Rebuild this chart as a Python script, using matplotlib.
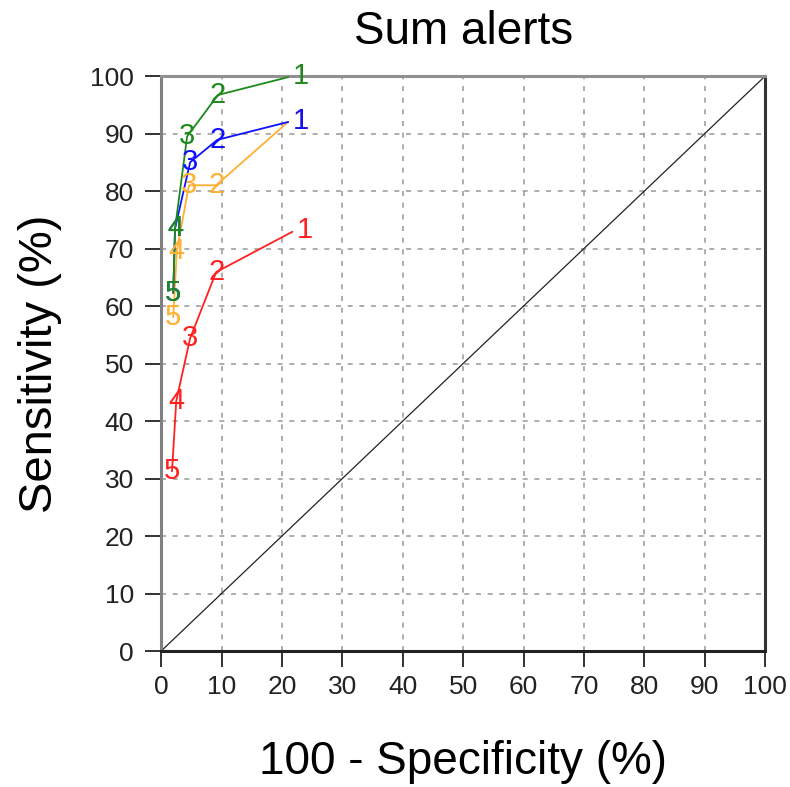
import matplotlib
matplotlib.use('Agg')
import matplotlib.pyplot as plt

plt.rcParams['font.family'] = ['Liberation Sans', 'DejaVu Sans']

# criterion points (100 - specificity, sensitivity), criterion 1..5
labels = ['1', '2', '3', '4', '5']
green_x = [21.0, 9.4, 4.3, 2.3, 2.0]
green_y = [99.8, 96.7, 89.5, 73.5, 62.3]
blue_x = [21.0, 9.3, 4.8, 2.3, 2.0]
blue_y = [92.0, 88.9, 85.0, 73.5, 62.3]
orange_x = [21.0, 9.1, 4.6, 2.6, 2.0]
orange_y = [92.0, 81.0, 81.0, 69.6, 58.1]
red_x = [21.7, 9.1, 4.8, 2.5, 1.8]
red_y = [72.9, 65.9, 54.4, 43.5, 31.3]

# drawn in this order, later ones on top
series = [
    (orange_x, orange_y, '#ffb030'),
    (blue_x, blue_y, '#1010ff'),
    (red_x, red_y, '#ff2020'),
    (green_x, green_y, '#1e8a1e'),
]

fig = plt.figure(figsize=(7.9, 7.87), dpi=100)
ax = fig.add_axes([0.204, 0.1728, 0.7646, 0.7306])

ax.plot([0, 100], [0, 100], color='#222222', lw=0.9, zorder=2)

for k, (xs, ys, col) in enumerate(series):
    ax.plot(xs, ys, color=col, lw=1.3, zorder=3 + k * 0.1)
    for i, (x, y) in enumerate(zip(xs, ys)):
        off = (9, 1) if i == 0 else (0, 0)
        ax.annotate(labels[i], (x, y), xytext=off, textcoords='offset points',
                    ha='center', va='center', fontsize=21, color=col,
                    zorder=4 + k * 0.1)

ax.set_xlim(0, 100)
ax.set_ylim(0, 100)
ax.set_xticks(range(0, 101, 10))
ax.set_yticks(range(0, 101, 10))
ax.grid(True, color='#a0a0a0', linestyle=(0, (3, 4)), lw=1.2)
ax.set_axisbelow(True)

ax.spines['left'].set_color('#808080')
ax.spines['top'].set_color('#909090')
ax.spines['right'].set_color('#333333')
ax.spines['bottom'].set_color('#222222')
for s in ax.spines.values():
    s.set_linewidth(2.2)

ax.tick_params(axis='both', direction='out', length=11.5, width=1.3,
               color='#222222', labelsize=19, labelcolor='#222222')
ax.tick_params(axis='y', pad=8)
ax.tick_params(axis='x', pad=6)

ax.set_title('Sum alerts', fontsize=33, pad=23)
ax.set_xlabel('100 - Specificity (%)', fontsize=33, labelpad=29)
ax.set_ylabel('Sensitivity (%)', fontsize=34, labelpad=20)

fig.savefig('out.png', dpi=100)
